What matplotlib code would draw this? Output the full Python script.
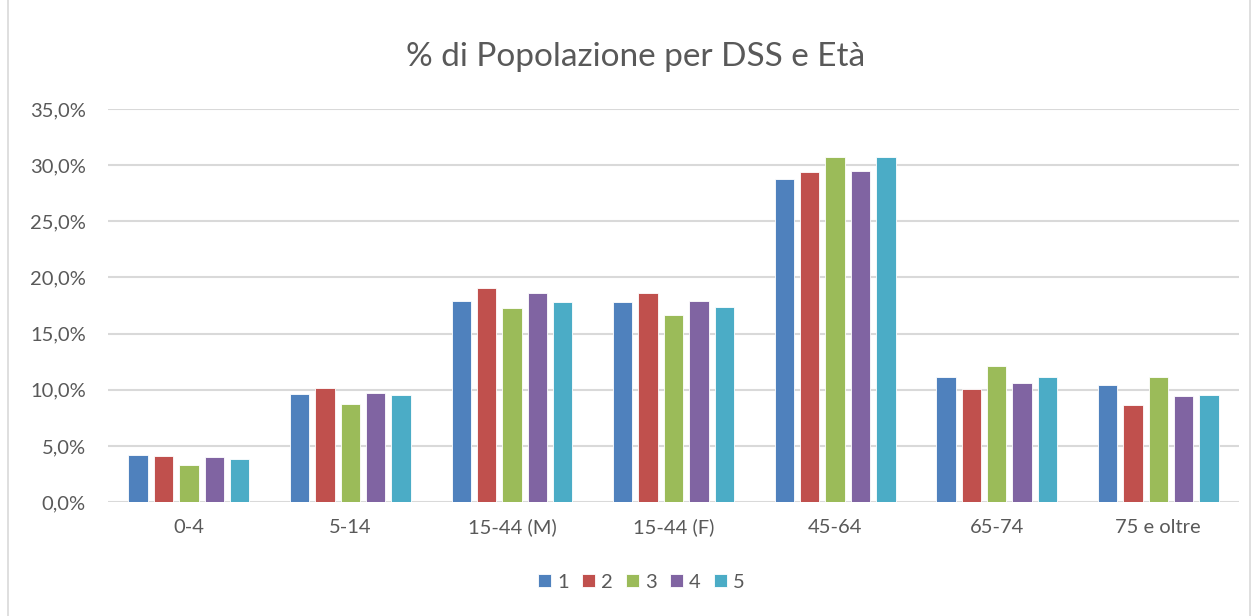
import matplotlib
matplotlib.use("Agg")
import matplotlib.pyplot as plt
from matplotlib.patches import Rectangle
from matplotlib.ticker import FuncFormatter
import numpy as np

plt.rcParams["font.family"] = ["Lato", "DejaVu Sans"]

# Fasce d'età e serie (DSS 1-5), valori in %
categories = ["0-4", "5-14", "15-44 (M)", "15-44 (F)", "45-64", "65-74", "75 e oltre"]
series_names = ["1", "2", "3", "4", "5"]
dss1 = [4.2, 9.6, 17.9, 17.8, 28.8, 11.1, 10.4]
dss2 = [4.1, 10.2, 19.1, 18.6, 29.4, 10.1, 8.6]
dss3 = [3.3, 8.7, 17.3, 16.7, 30.7, 12.1, 11.1]
dss4 = [4.0, 9.7, 18.6, 17.9, 29.5, 10.6, 9.4]
dss5 = [3.8, 9.5, 17.8, 17.4, 30.7, 11.1, 9.5]
colors = ["#4F81BD", "#C0504D", "#9BBB59", "#8064A2", "#4BACC6"]

values = [dss1, dss2, dss3, dss4, dss5]

fig = plt.figure(figsize=(12.58, 6.16), dpi=100)
ax = fig.add_axes([0.0859, 0.185, 0.899, 0.638])

x = np.arange(len(categories))
pitch = 0.157
width = 0.12
for i, (vals, name, col) in enumerate(zip(values, series_names, colors)):
    offs = (i - 2) * pitch
    ax.bar(x + offs, vals, width=width, color=col, label=name,
           edgecolor="white", linewidth=0.6, zorder=3)

ax.set_xlim(-0.5, len(categories) - 0.5)
ax.set_ylim(0, 35)
ax.set_yticks(np.arange(0, 36, 5))
ax.yaxis.set_major_formatter(FuncFormatter(lambda v, p: f"{v:.1f}%".replace(".", ",")))
ax.set_xticks(x)
ax.set_xticklabels(categories)
ax.grid(axis="y", color="#D9D9D9", linewidth=1.5, zorder=0)
ax.set_axisbelow(True)
for s in ax.spines.values():
    s.set_visible(False)
ax.tick_params(axis="both", length=0, labelsize=14.5, labelcolor="#595959")
ax.tick_params(axis="x", pad=12)
ax.tick_params(axis="y", pad=16)

fig.text(0.505, 0.907, "% di Popolazione per DSS e Età", ha="center", va="center",
         fontsize=24, color="#595959")

leg = fig.legend(loc="center", bbox_to_anchor=(0.51, 0.055), ncol=5, frameon=False,
                 fontsize=14.5, handlelength=0.65, handleheight=0.65,
                 handletextpad=0.3, columnspacing=0.65)
for t in leg.get_texts():
    t.set_color("#595959")

fig.patches.append(Rectangle((8 / 1258, -0.01), 1242 / 1258, 1.02, transform=fig.transFigure,
                             fill=False, edgecolor="#D9D9D9", linewidth=1.2))

fig.savefig("out.png", dpi=100, facecolor="white")
